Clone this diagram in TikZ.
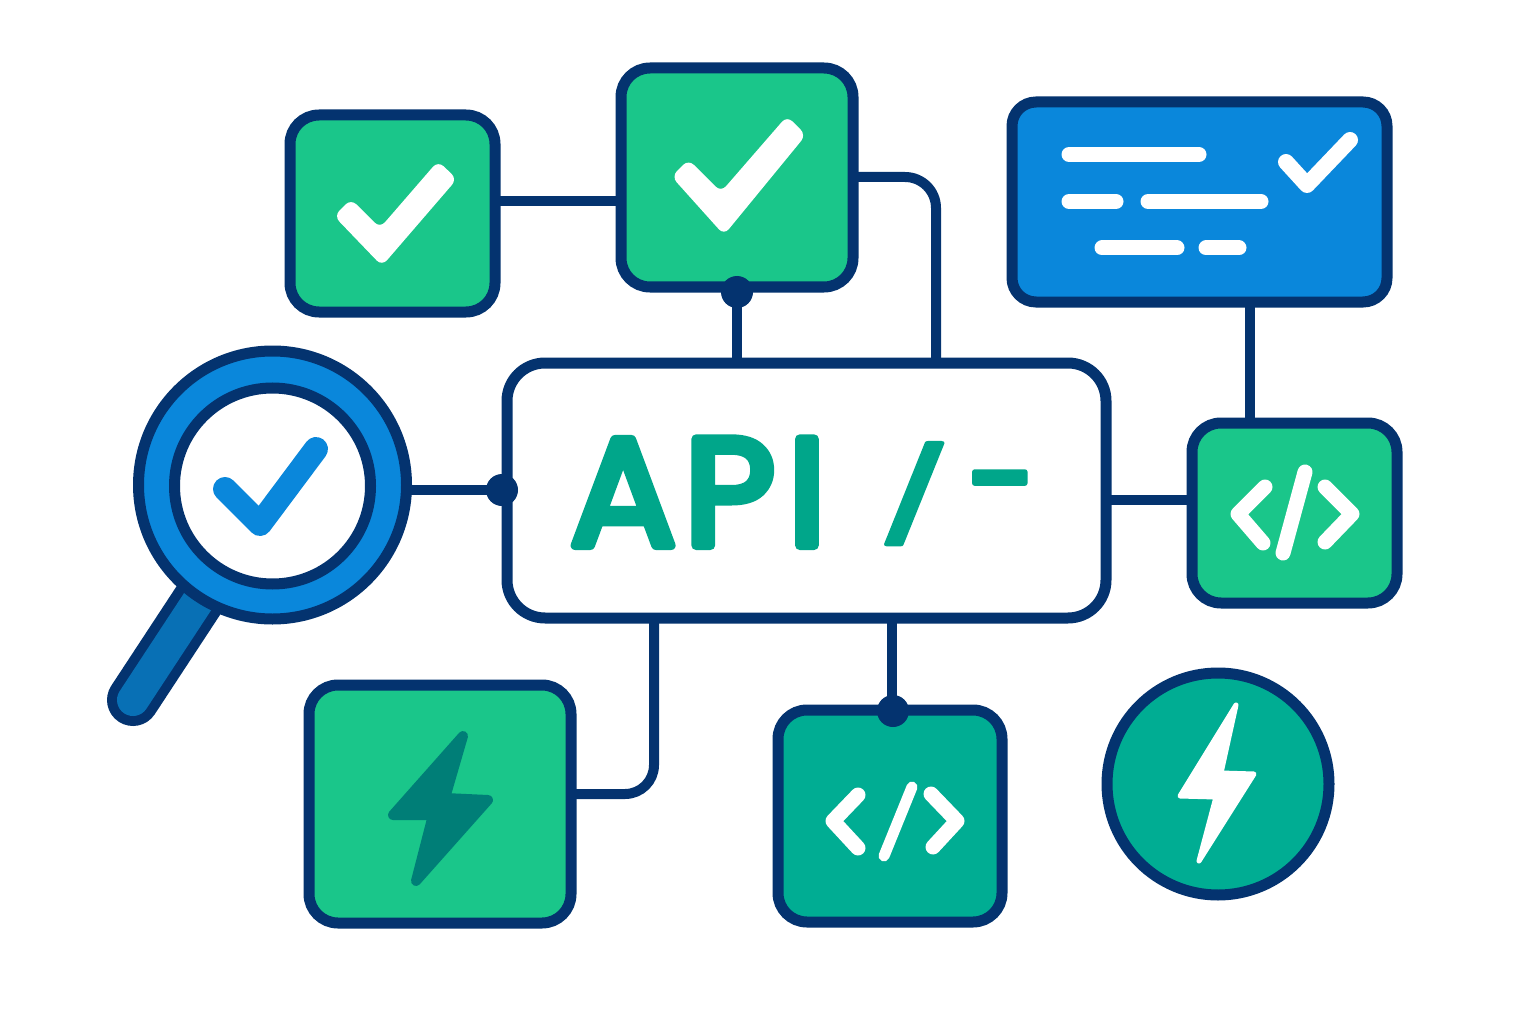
\documentclass[tikz,border=0pt]{standalone}
\usepackage{fontspec}
\setmainfont{Poppins}[UprightFont=*,BoldFont=* Medium]
\usetikzlibrary{calc}
\definecolor{navy}{HTML}{04336F}
\definecolor{gr}{HTML}{1AC68A}
\definecolor{teal2}{HTML}{00AD93}
\definecolor{blu}{HTML}{0A87DB}
\definecolor{txt}{HTML}{00A68A}
\definecolor{hand}{HTML}{0870B5}
\definecolor{boltd}{HTML}{007E77}
\pgfdeclarelayer{back}
\pgfdeclarelayer{conn}
\pgfsetlayers{back,conn,main}
\newcommand{\softtext}[2]{\special{pdf:code q 1 j 1 J #1 w 2 Tr}#2\special{pdf:code 0 Tr Q}}
\tikzset{
 x=1pt,y=-1pt,
 card/.style={draw=navy,line width=11pt,rounded corners=#1,inner sep=0pt,outer sep=0pt},
 card/.default=29pt,
 wire/.style={draw=navy,line width=10pt},
 dot/.style={circle,fill=navy,minimum size=32pt,inner sep=0pt,outer sep=0pt},
 ico/.style={line cap=round,line join=round,line width=#1,white},
 bar/.style={line cap=round,line width=15pt,white},
 tick/.style={fill=#1,rounded corners=7.5pt},
 bolt/.style={line join=round,line width=#1},
 word/.style={text=txt,inner sep=0pt,outer sep=0pt,anchor=base west},
}
\begin{document}
\begin{tikzpicture}
\begin{pgfonlayer}{back}
\path[use as bounding box,fill=white] (0,0) rectangle (1536,1024);
\end{pgfonlayer}
% nodes
\node[card,fill=gr,minimum width=205pt,minimum height=197pt] (chkA) at (392.5,213.5) {};
\node[card,fill=gr,minimum width=232pt,minimum height=219pt] (chkB) at (737,177.5) {};
\node[card=24pt,fill=blu,minimum width=375pt,minimum height=200pt] (doc) at (1199.5,202) {};
\node[card=38pt,fill=white,minimum width=599pt,minimum height=255pt] (api) at (806.5,490.5) {};
\node[card,fill=gr,minimum width=205pt,minimum height=180pt] (codeR) at (1294.5,513) {};
\node[card,fill=gr,minimum width=262pt,minimum height=238pt] (boltBox) at (440,804) {};
\node[card,fill=teal2,minimum width=224pt,minimum height=212pt] (codeB) at (890,816) {};
\node[circle,draw=navy,line width=11pt,fill=teal2,minimum size=222pt,inner sep=0pt,outer sep=0pt] (boltC) at (1218,784) {};
% magnifier
\coordinate (hEnd) at (133,700);
\coordinate (hTop) at (200,598);
\draw[navy,line width=52pt,line cap=round] (hEnd) -- (hTop);
\draw[hand,line width=32pt,line cap=round] (hEnd) -- (hTop);
\node[circle,draw=navy,line width=11pt,fill=blu,minimum size=268pt,inner sep=0pt,outer sep=0pt] (lensO) at (272.5,485) {};
\node[circle,draw=navy,line width=11pt,fill=white,minimum size=196pt,inner sep=0pt,outer sep=0pt] (lensI) at (272.5,486) {};
% connectors
\begin{pgfonlayer}{conn}
\coordinate (a1) at (0,201);
\draw[wire] (chkA.east |- a1) -- (chkB.west |- a1);
\draw[wire] (chkB.south) -- (chkB.south |- api.north);
\coordinate (a2) at (936,177);
\draw[wire,rounded corners=31pt] (chkB.east |- a2) -- (a2) -- (a2 |- api.north);
\coordinate (a3) at (1250,0);
\draw[wire] (a3 |- doc.south) -- (a3 |- codeR.north);
\coordinate (a4) at (0,500);
\draw[wire] (api.east |- a4) -- (codeR.west |- a4);
\coordinate (a5) at (0,490);
\draw[wire] (lensO.east |- a5) -- (api.west |- a5);
\coordinate (a6) at (654,794);
\draw[wire,rounded corners=29pt] (a6 |- api.south) -- (a6) -- (boltBox.east |- a6);
\coordinate (a7) at (892,0);
\draw[wire] (a7 |- api.south) -- (a7 |- codeB.north);
\end{pgfonlayer}
% dots
\node[dot] (dotA) at (737,292) {};
\node[dot] (dotB) at (502,490) {};
\node[dot] (dotC) at (893,711) {};
% checks
\path[tick=white] (351,199) -- (380,228) -- (438,161) -- (457,179) -- (382,266) -- (334,216) -- cycle;
\path[tick=white] (688.5,159.5) -- (721,192) -- (787,116) -- (806,135) -- (724,235) -- (671.5,176.5) -- cycle;
\draw[ico=24pt,blu] (225,489) -- (260,524) -- (316,449);
\draw[ico=16pt] (1286,162) -- (1307,185) -- (1350,140);
% doc bars
\draw[bar] (1069,154.5) -- (1199,154.5);
\draw[bar] (1069,201.5) -- (1116,201.5);
\draw[bar] (1148,201.5) -- (1261,201.5);
\draw[bar] (1102,248) -- (1177,248);
\draw[bar] (1206,248) -- (1239,248);
% code icons
\draw[ico=15pt] (1265,487) -- (1238,514) -- (1263,543);
\draw[ico=15pt] (1305,472) -- (1283,553);
\draw[ico=15pt] (1325,487) -- (1352,514) -- (1325,542);
\draw[ico=15pt] (858,795) -- (833,821) -- (858,848);
\draw[ico=11pt] (912,787) -- (884,856);
\draw[ico=15pt] (931,794) -- (957,821) -- (933,847);
% bolts
\draw[bolt=10pt,draw=boltd,fill=boltd] (463,736) -- (393,815) -- (433,815) -- (416,881) -- (488,800) -- (445,798) -- cycle;
\draw[bolt=5pt,draw=white,fill=white] (1236,705) -- (1180,796) -- (1216,797) -- (1199,861) -- (1254,774) -- (1221,773) -- cycle;
% text
\node[word,font=\fontsize{153}{153}\selectfont] (apiT) at (570,545.5) {\softtext{9}{\scalebox{1.03}[1]{\addfontfeature{LetterSpace=2}A\kern7.6pt P\kern12pt I}}};
\node[word,font=\fontsize{150}{150}\selectfont] (apiS) at (879,529) {\softtext{6}{\scalebox{1.0}[0.61]{/}}};
\node[word,font=\bfseries\fontsize{120}{120}\selectfont] (apiD) at (964,521) {\softtext{5}{\scalebox{1.02}[1]{-}}};
\end{tikzpicture}
\end{document}
